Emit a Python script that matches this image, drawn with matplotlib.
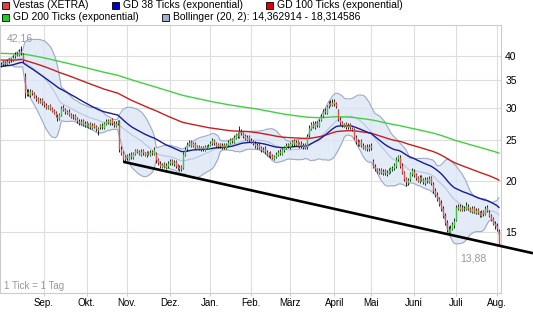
import matplotlib
matplotlib.use("Agg")
import matplotlib.pyplot as plt
from matplotlib.patches import Rectangle
from matplotlib.ticker import FixedLocator, NullLocator, FuncFormatter
import numpy as np
import pandas as pd

# trading days (XETRA), Aug 2 2010 .. Aug 2 2011
holidays = ["2010-12-24", "2010-12-31", "2011-04-22", "2011-04-25"]
dates = pd.bdate_range("2010-08-02", "2011-08-02")
dates = dates[~dates.isin(pd.to_datetime(holidays))]

closes = [
    # Aug
    38.3, 38.6, 38.2, 38.9, 39.3, 39.0, 39.8, 40.5, 40.2, 41.0, 40.6, 39.0, 32.6, 32.8, 32.3, 32.9, 32.5, 31.9, 31.5, 31.0, 31.3, 30.8,
    # Sep
    30.4, 30.0, 30.3, 29.8, 29.5, 29.1, 28.6, 28.3, 28.9, 30.0, 29.6, 29.2, 29.4, 28.8, 28.5, 28.7, 28.2, 27.8, 27.5, 27.9, 27.3, 27.6,
    # Okt
    27.1, 27.4, 26.9, 27.3, 27.0, 26.6, 26.8, 27.2, 26.9, 27.5, 27.9, 27.6, 28.0, 27.5, 27.2, 27.6, 27.8, 23.8, 23.3, 22.6, 22.9,
    # Nov
    22.7, 23.1, 22.8, 23.3, 23.7, 23.5, 23.2, 23.6, 23.3, 23.1, 23.4, 23.2, 23.5, 23.3, 23.9, 22.4, 22.0, 21.7, 21.9, 21.6, 21.8, 22.1,
    # Dez
    22.3, 22.0, 22.2, 21.7, 21.4, 21.6, 21.3, 23.2, 23.9, 24.5, 24.8, 24.3, 24.6, 24.0, 24.2, 23.9, 24.1, 23.8, 24.2, 24.0, 24.3,
    # Jan
    24.7, 25.0, 24.6, 24.3, 24.5, 24.2, 24.4, 24.1, 24.5, 24.8, 25.2, 24.9, 25.5, 25.9, 25.6, 26.3, 26.0, 25.6, 25.2, 25.5, 25.0,
    # Feb
    24.8, 24.6, 24.2, 24.4, 24.0, 23.7, 23.9, 23.4, 23.1, 23.3, 22.9, 22.7, 22.9, 23.2, 23.5, 23.3, 23.8, 24.1, 24.4, 24.2,
    # Maerz
    24.6, 24.9, 24.5, 24.8, 24.3, 24.6, 24.2, 24.4, 24.0, 25.6, 26.8, 27.4, 27.0, 27.6, 27.2, 27.9, 28.7, 29.5, 29.2, 30.2, 30.8, 30.5, 31.0,
    # April
    30.6, 30.2, 28.2, 27.6, 27.2, 27.4, 27.0, 27.3, 26.9, 26.5, 25.4, 24.8, 24.5, 24.9, 24.3, 24.0, 24.2, 23.9, 24.3,
    # Mai
    24.0, 21.6, 21.3, 21.0, 21.2, 20.9, 21.1, 20.8, 21.0, 21.2, 21.4, 21.5, 21.8, 22.6, 22.9, 21.7, 20.9, 20.2, 19.8, 20.1, 20.8, 21.2,
    # Juni
    20.6, 20.3, 20.0, 20.4, 20.1, 19.8, 20.2, 19.9, 20.3, 19.7, 18.9, 18.5, 18.0, 17.6, 17.1, 16.4, 15.8, 15.2, 15.0, 15.4, 15.7, 16.0,
    # Juli
    17.3, 17.1, 17.4, 17.0, 17.2, 17.5, 17.1, 16.9, 17.2, 16.8, 17.0, 16.7, 16.5, 16.8, 16.6, 17.2, 16.9, 16.4, 16.1, 15.7, 15.5,
    # Aug
    15.3, 13.88,
]
opens = [
    38.0, 38.2, 38.7, 38.3, 38.8, 39.4, 39.1, 39.9, 40.6, 40.3, 41.1, 40.4, 35.8, 32.4, 32.9, 32.2, 32.9, 32.6, 31.8, 31.6, 30.9, 31.4,
    30.9, 30.5, 29.9, 30.4, 29.9, 29.6, 29.2, 28.7, 28.2, 28.8, 30.1, 29.7, 29.1, 29.5, 28.9, 28.4, 28.8, 28.3, 27.9, 27.4, 28.0, 27.2,
    27.7, 27.0, 27.5, 26.8, 27.4, 27.1, 26.5, 26.9, 27.3, 26.8, 27.4, 28.0, 27.5, 28.1, 27.6, 27.1, 27.5, 27.8, 23.9, 23.4, 22.5,
    23.0, 22.6, 23.2, 22.7, 23.2, 23.8, 23.6, 23.1, 23.7, 23.4, 23.0, 23.5, 23.1, 23.6, 23.2, 23.3, 22.5, 22.1, 21.6, 22.0, 21.5, 21.7,
    22.0, 22.4, 21.9, 22.3, 21.8, 21.3, 21.7, 21.4, 23.1, 23.8, 24.4, 24.9, 24.2, 24.7, 23.9, 24.3, 23.8, 24.2, 23.7, 24.3, 23.9,
    24.4, 24.6, 25.1, 24.7, 24.2, 24.6, 24.1, 24.5, 24.0, 24.4, 24.7, 25.3, 24.8, 25.4, 26.0, 25.5, 26.4, 26.1, 25.7, 25.1, 25.6,
    25.1, 24.9, 24.7, 24.1, 24.5, 24.1, 23.6, 24.0, 23.5, 23.0, 23.4, 23.0, 22.6, 22.8, 23.1, 23.6, 23.2, 23.7, 24.0, 24.5,
    24.1, 24.5, 25.0, 24.4, 24.9, 24.2, 24.7, 24.1, 24.5, 24.1, 25.8, 26.7, 27.5, 26.9, 27.7, 27.1, 28.0, 28.6, 29.6, 29.1, 30.3, 30.9, 30.4,
    31.1, 30.7, 29.6, 28.1, 27.7, 27.1, 27.5, 26.9, 27.4, 26.8, 26.6, 25.5, 24.9, 24.4, 25.0, 24.4, 23.9, 24.3, 23.8,
    24.4, 22.3, 21.7, 21.4, 20.9, 21.3, 20.8, 21.2, 20.7, 20.9, 21.1, 21.3, 21.4, 21.7, 22.5, 22.8, 21.8, 21.0, 20.3, 19.7, 20.2, 20.7,
    21.1, 20.7, 20.4, 19.9, 20.5, 20.2, 19.7, 20.3, 19.8, 20.4, 19.6, 19.0, 18.6, 18.1, 17.7, 17.2, 16.5, 15.9, 15.3, 14.9, 15.3, 15.6,
    16.1, 17.4, 17.0, 17.3, 17.1, 17.1, 17.4, 17.2, 16.8, 17.3, 16.7, 17.1, 16.8, 16.4, 16.9, 16.6, 17.3, 16.8, 16.5, 16.2, 15.8,
    15.6, 15.1,
]
highs = [
    38.7, 38.9, 38.9, 39.2, 39.6, 39.6, 40.1, 40.9, 40.9, 41.6, 42.16, 40.6, 36.3, 33.3, 33.2, 33.2, 33.1, 32.8, 32.1, 31.8, 31.6, 31.6,
    31.1, 30.8, 30.5, 30.6, 30.1, 29.8, 29.4, 28.9, 29.1, 30.3, 30.4, 29.9, 29.6, 29.7, 29.1, 28.9, 29.0, 28.5, 28.1, 28.1, 28.2, 27.9,
    27.9, 27.6, 27.7, 27.5, 27.6, 27.3, 27.0, 27.4, 27.5, 27.7, 28.1, 28.2, 28.2, 28.3, 27.8, 27.8, 28.0, 28.0, 24.2, 23.6, 23.1,
    23.2, 23.3, 23.4, 23.5, 23.9, 23.9, 23.7, 23.8, 23.8, 23.5, 23.6, 23.6, 23.7, 23.7, 24.1, 23.4, 22.7, 22.3, 22.1, 22.2, 22.0, 22.3,
    22.5, 22.6, 22.4, 22.4, 21.9, 21.8, 21.8, 23.5, 24.1, 24.8, 25.1, 25.0, 24.8, 24.8, 24.4, 24.4, 24.3, 24.3, 24.4, 24.4, 24.5,
    24.9, 25.3, 25.2, 24.8, 24.7, 24.7, 24.6, 24.6, 24.7, 25.0, 25.4, 25.4, 25.7, 26.1, 26.2, 27.1, 26.6, 26.2, 25.9, 25.7, 25.8,
    25.3, 25.1, 24.9, 24.6, 24.7, 24.3, 24.1, 24.2, 23.7, 23.5, 23.6, 23.2, 23.1, 23.4, 23.7, 23.8, 24.0, 24.3, 24.6, 24.7,
    24.8, 25.1, 25.2, 25.0, 25.1, 24.8, 24.9, 24.6, 24.7, 25.9, 27.2, 27.7, 27.8, 27.9, 27.9, 28.2, 29.0, 29.8, 29.9, 30.5, 31.1, 31.3, 31.4,
    31.5, 31.0, 29.8, 28.4, 27.9, 27.6, 27.7, 27.5, 27.6, 27.0, 26.8, 25.7, 25.2, 25.1, 25.2, 24.6, 24.4, 24.5, 24.5,
    24.6, 22.5, 21.9, 21.5, 21.4, 21.4, 21.3, 21.3, 21.2, 21.4, 21.6, 21.7, 22.0, 22.8, 23.1, 23.0, 22.0, 21.1, 20.4, 20.3, 21.0, 21.5,
    21.3, 20.9, 20.5, 20.6, 20.6, 20.3, 20.4, 20.4, 20.5, 20.5, 19.8, 19.2, 18.8, 18.3, 17.9, 17.4, 16.7, 16.1, 15.5, 15.6, 15.9, 16.2,
    17.5, 17.6, 17.6, 17.5, 17.4, 17.7, 17.6, 17.3, 17.4, 17.4, 17.2, 17.2, 16.9, 17.0, 17.0, 17.4, 17.5, 17.0, 16.6, 16.3, 16.0,
    15.8, 15.3,
]
lows = [
    37.7, 37.9, 37.9, 38.0, 38.5, 38.7, 38.8, 39.6, 39.9, 40.0, 40.3, 38.7, 31.6, 32.0, 32.0, 31.9, 32.2, 31.6, 31.2, 30.7, 30.7, 30.4,
    30.1, 29.8, 29.7, 29.6, 29.3, 28.9, 28.4, 27.8, 28.0, 28.6, 29.4, 29.0, 28.9, 28.6, 28.3, 28.2, 28.0, 27.6, 27.3, 27.2, 27.1, 27.0,
    26.9, 26.8, 26.7, 26.6, 26.8, 26.4, 25.8, 26.7, 26.7, 26.6, 27.2, 27.4, 27.3, 27.3, 27.0, 26.9, 27.3, 23.4, 23.0, 22.2, 22.3,
    22.4, 22.4, 22.6, 22.5, 23.0, 23.3, 23.0, 22.9, 23.1, 22.9, 22.8, 23.0, 22.9, 23.1, 23.0, 22.1, 21.8, 21.5, 21.4, 21.4, 21.3, 21.5,
    21.8, 21.8, 21.7, 21.5, 21.2, 21.1, 21.1, 21.3, 22.9, 23.6, 24.2, 24.1, 24.1, 23.8, 23.8, 23.7, 23.6, 23.6, 23.6, 23.8, 23.8,
    24.2, 24.4, 24.4, 24.1, 24.0, 24.0, 23.9, 23.9, 23.8, 24.2, 24.5, 24.7, 24.6, 25.2, 25.4, 25.3, 25.8, 25.4, 25.0, 24.9, 24.8,
    24.6, 24.4, 24.0, 23.9, 23.8, 23.5, 23.4, 23.2, 22.9, 22.8, 22.7, 22.5, 22.4, 22.7, 22.9, 23.1, 23.0, 23.5, 23.8, 24.0,
    23.9, 24.3, 24.3, 24.2, 24.1, 24.0, 24.0, 23.9, 23.8, 23.9, 25.5, 26.5, 26.8, 26.7, 27.0, 26.9, 27.8, 28.4, 28.9, 28.9, 29.9, 30.2, 30.2,
    30.3, 30.0, 27.9, 27.3, 26.9, 26.9, 26.7, 26.7, 26.7, 26.3, 25.2, 24.5, 24.2, 24.2, 24.1, 23.8, 23.7, 23.6, 23.6,
    23.7, 21.4, 21.1, 20.8, 20.7, 20.7, 20.6, 20.6, 20.5, 20.7, 20.9, 21.1, 21.2, 21.5, 22.3, 21.5, 20.7, 20.0, 19.4, 19.5, 20.0, 20.5,
    20.4, 20.1, 19.8, 19.7, 19.9, 19.6, 19.5, 19.7, 19.7, 19.5, 18.7, 18.3, 17.8, 17.4, 16.9, 16.2, 15.6, 15.0, 14.75, 14.8, 15.2, 15.4,
    16.0, 17.0, 16.9, 16.9, 16.9, 17.0, 17.0, 16.8, 16.7, 16.7, 16.6, 16.6, 16.3, 16.3, 16.4, 16.5, 16.8, 16.3, 16.0, 15.6, 15.3,
    15.1, 13.88,
]

# starting levels of the moving averages at the first day
ema_seed = {38: 37.7, 100: 39.1, 200: 40.6}

# trend line (trading-day index, price)
trend_idx = [63, 274.6]
trend_price = [22.2, 13.35]

month_names = ["Sep.", "Okt.", "Nov.", "Dez.", "Jan.", "Feb.", "März", "April", "Mai", "Juni", "Juli", "Aug."]
yticks = [15, 20, 25, 30, 35, 40]

n = len(closes)
idx = np.arange(n)
c = pd.Series(closes)
o = np.array(opens)
h = np.array(highs)
l = np.array(lows)
cl = np.array(closes)


def ema(span, seed):
    s = pd.concat([pd.Series([seed]), c], ignore_index=True)
    return s.ewm(span=span, adjust=False).mean().iloc[1:].to_numpy()


mid = c.rolling(20, min_periods=1).mean()
sd = c.rolling(20, min_periods=1).std(ddof=0)
upper = (mid + 2 * sd).to_numpy()
lower = (mid - 2 * sd).to_numpy()

# month start positions
d = dates[:n]
month_pos = [i for i in range(1, n) if d[i].month != d[i - 1].month]

plt.rcParams["font.family"] = ["Liberation Sans", "DejaVu Sans"]

W, H = 533, 314
fig = plt.figure(figsize=(W / 100, H / 100), dpi=100)
ax = fig.add_axes([0, 21 / H, 501 / W, 268 / H])

ax.set_yscale("log")
ax.set_ylim(10.7, 47.5)
ax.set_xlim(-0.7, 258.1)

grid_c = "#dedede"
for p in month_pos:
    ax.axvline(p, color=grid_c, lw=0.8, zorder=0)
for v in yticks:
    ax.axhline(v, color=grid_c, lw=0.8, zorder=0)

# Bollinger band
ax.fill_between(idx, lower, upper, color="#dce6f6", alpha=0.8, lw=0, zorder=1)
ax.plot(idx, upper, color="#9aaac8", lw=0.8, zorder=2)
ax.plot(idx, lower, color="#9aaac8", lw=0.8, zorder=2)
ax.plot(idx, mid, color="#b4c6e6", lw=0.8, zorder=2)

# moving averages
ax.plot(idx, ema(200, ema_seed[200]), color="#3fd23f", lw=1.0, zorder=3)
ax.plot(idx, ema(100, ema_seed[100]), color="#c81e1e", lw=1.0, zorder=3)
ax.plot(idx, ema(38, ema_seed[38]), color="#1a1a96", lw=1.0, zorder=3)

# candles
up = cl >= o
ax.vlines(idx, l, h, color="black", lw=0.6, zorder=4)
body_c = np.where(up, "#3cc83c", "#e05050")
ax.vlines(idx, np.minimum(o, cl), np.maximum(o, cl), colors=body_c, lw=1.0, zorder=5)

# trend line
ax.plot(trend_idx, trend_price, color="black", lw=1.9, clip_on=False, zorder=6,
        solid_capstyle="butt")

# max / min labels
imax = int(np.argmax(h))
imin = int(np.argmin(l))
ax.annotate(f"{h[imax]:.2f}".replace(".", ","), (imax, h[imax]), xytext=(-1, 3),
            textcoords="offset pixels", ha="center", va="bottom", fontsize=7.5, color="#999999")
ax.annotate(f"{l[imin]:.2f}".replace(".", ","), (imin, l[imin]), xytext=(-12, -12),
            textcoords="offset pixels", ha="right", va="center", fontsize=7.5, color="#999999")

ax.text(0.008, 0.008, "1 Tick = 1 Tag", transform=ax.transAxes, fontsize=7,
        color="#999999", va="bottom", ha="left")

ax.yaxis.tick_right()
ax.yaxis.set_major_locator(FixedLocator(yticks))
ax.yaxis.set_minor_locator(NullLocator())
ax.yaxis.set_major_formatter(FuncFormatter(lambda v, p: f"{v:.0f}"))
ax.tick_params(axis="y", length=0, pad=3, labelsize=7.5)
ax.set_xticks(month_pos)
ax.set_xticklabels(month_names)
ax.tick_params(axis="x", length=2, color="#cccccc", pad=1.5, labelsize=7)
for s in ax.spines.values():
    s.set_color("#cccccc")
    s.set_linewidth(0.8)

# legend
legend = [
    (2, 5.5, "#e04040", "Vestas (XETRA)"),
    (112, 5.5, "#0000c8", "GD 38 Ticks (exponential)"),
    (266, 5.5, "#dd0000", "GD 100 Ticks (exponential)"),
    (2, 17.5, "#22cc22", "GD 200 Ticks (exponential)"),
    (162, 17.5, "#a0b0d0", "Bollinger (20, 2): 14,362914 - 18,314586"),
]
for x, yc, col, label in legend:
    fig.patches.append(Rectangle((x / W, 1 - (yc + 3.5) / H), 7 / W, 7 / H,
                                 transform=fig.transFigure, fc=col, ec="black", lw=0.6))
    fig.text((x + 11) / W, 1 - yc / H, label, fontsize=7.5, va="center", ha="left")

fig.savefig("out.png", dpi=100)
